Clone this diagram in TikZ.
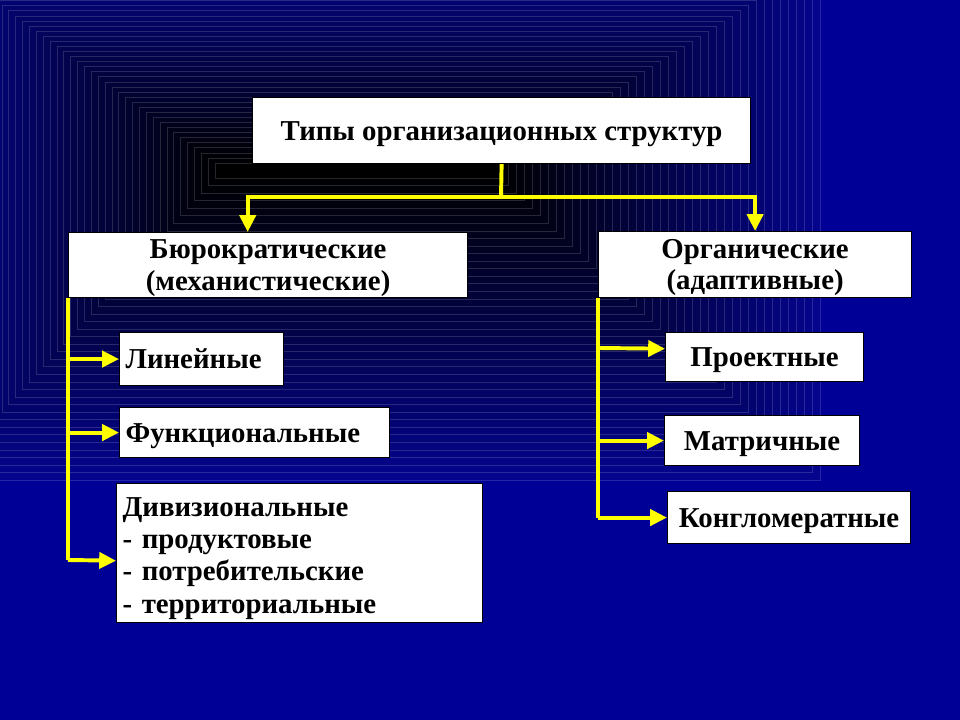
\documentclass[tikz,border=0pt]{standalone}
\usepackage{fontspec}
\setmainfont{Liberation Serif}
\usetikzlibrary{arrows.meta}

\definecolor{bgblue}{RGB}{0,0,150}
\definecolor{tunnel}{RGB}{4,4,140}
\definecolor{linkyellow}{RGB}{255,255,0}

\tikzset{
  box/.style={draw=black, fill=white, line width=0.8pt, inner sep=0pt, text depth=0pt,
    font=\bfseries\fontsize{20.5}{22.5}\selectfont, align=center, anchor=north west},
  lbox/.style={box, align=left, inner xsep=0.15cm},
  link/.style={draw=linkyellow, line width=2.8pt},
  arr/.style={link, -{Triangle[length=0.42cm,width=0.4cm]}}
}

\begin{document}
\begin{tikzpicture}[x=0.025cm,y=-0.025cm]
  \useasboundingbox (0,0) rectangle (960,720);
  \fill[bgblue] (0,0) rectangle (960,720);
  % background tunnel
  \begin{scope}
    \clip (0,0) rectangle (960,720);
    \foreach \i in {0,...,40}{
      \pgfmathsetmacro\p{2.5*\i}
      \fill[black!\p!tunnel] (-60+\i*6.875,-40+\i*5.075) rectangle (820-\i*8,480-\i*7.55);
      \draw[white, opacity=0.15, line width=0.4pt] (-60+\i*6.875,-40+\i*5.075) rectangle (820-\i*8,480-\i*7.55);
    }
  \end{scope}

  % boxes
  \node[box, minimum width=12.45cm, minimum height=1.65cm] (types) at (252,97) {Типы организационных структур};
  \node[box, minimum width=9.975cm, minimum height=1.625cm] (bur) at (68,232) {Бюрократические\\(механистические)};
  \node[box, minimum width=7.825cm, minimum height=1.65cm] (org) at (598,231) {Органические\\(адаптивные)};

  \node[lbox, text width=3.8cm, minimum height=1.325cm] (lin) at (119,332) {Линейные};
  \node[lbox, text width=6.45cm, minimum height=1.25cm] (fun) at (119,407) {Функциональные};
  \node[lbox, text width=8.85cm, minimum height=3.475cm, text depth={}, text height=21pt,
    font=\bfseries\fontsize{20.5}{23}\selectfont] (div) at (116,483)
    {Дивизиональные\\- продуктовые\\- потребительские\\- территориальные};

  \node[box, minimum width=4.95cm, minimum height=1.225cm] (pro) at (665,332) {Проектные};
  \node[box, minimum width=4.875cm, minimum height=1.25cm] (mat) at (664,415) {Матричные};
  \node[box, minimum width=6.075cm, minimum height=1.3cm] (kon) at (667,491) {Конгломератные};

  % connectors
  \coordinate (split) at (501,197);
  \draw[link] (types.south) -- (split);
  \draw[arr] (split) -| ([xshift=-0.51cm]bur.north);
  \draw[arr] (split) -| (org.north);

  \draw[link] (bur.south west) -- (bur.south west |- 0,560);
  \draw[arr] (bur.south west |- lin.west) -- (lin.west);
  \draw[arr] (bur.south west |- fun.west) -- (fun.west);
  \draw[arr] (bur.south west |- 0,560) -- ([yshift=-0.19cm]div.west);

  \draw[link] (org.south west) -- (org.south west |- kon.west);
  \draw[arr] (org.south west |- 0,348) -- ([yshift=0.21cm]pro.west);
  \draw[arr] (org.south west |- mat.west) -- (mat.west);
  \draw[arr] (org.south west |- kon.west) -- (kon.west);
\end{tikzpicture}
\end{document}
